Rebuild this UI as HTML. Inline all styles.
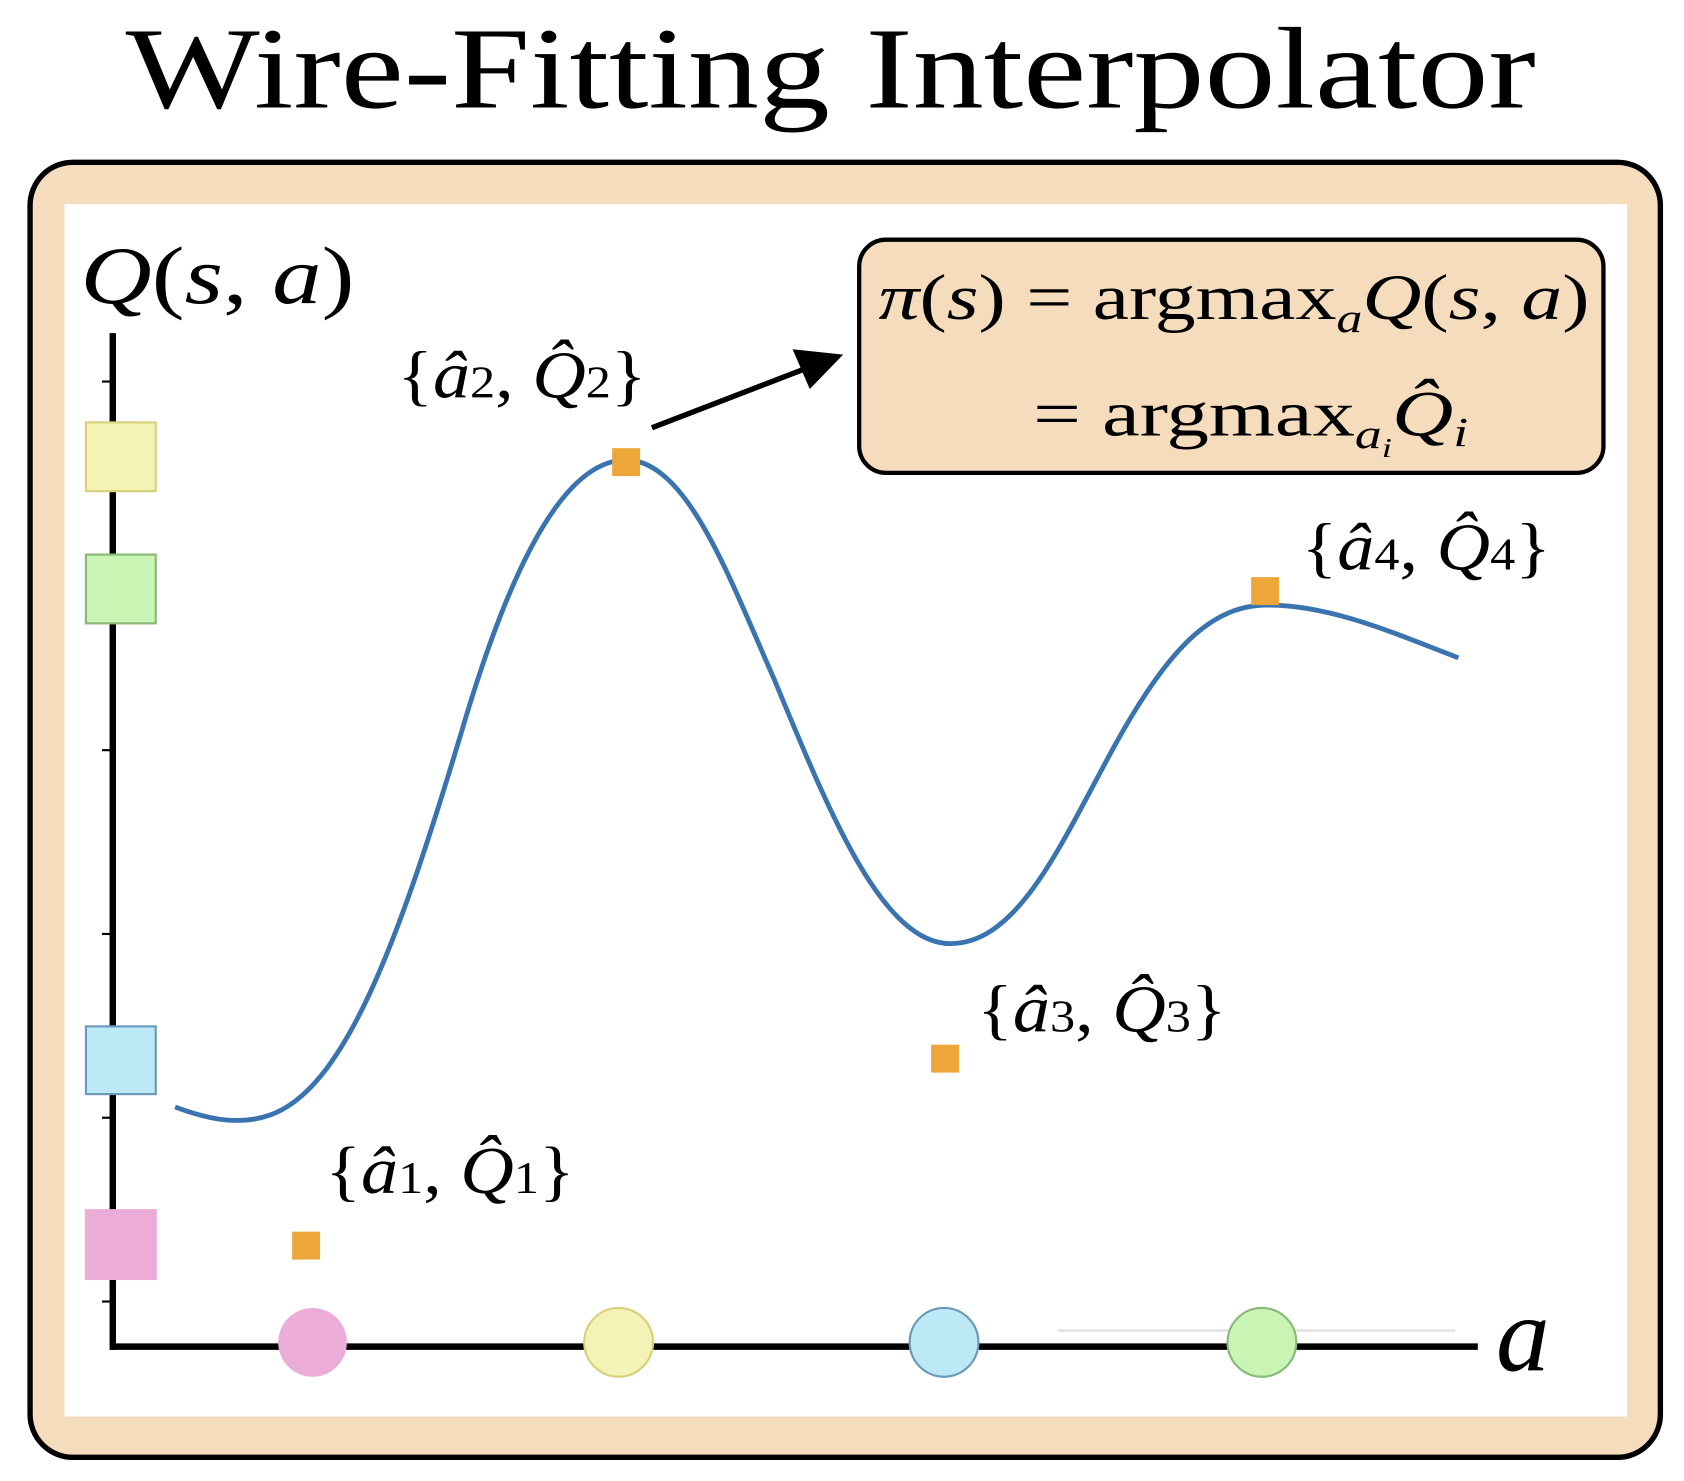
<!DOCTYPE html>
<html><head><meta charset="utf-8"><style>
html,body{margin:0;padding:0;background:#fff;}
svg{display:block;}
.m{font-family:"Liberation Serif",serif;font-style:italic;}
.r{font-family:"Liberation Serif",serif;font-style:normal;}
</style></head><body>
<svg width="1684" height="1481" viewBox="0 0 1568 1378" preserveAspectRatio="none" xmlns="http://www.w3.org/2000/svg">
<rect width="1568" height="1378" fill="#fff"/>
<text x="117" y="100" class="r" font-size="108" textLength="1313" lengthAdjust="spacingAndGlyphs">Wire-Fitting Interpolator</text>
<rect x="28" y="151" width="1518" height="1205" rx="40" fill="#f5dcbd" stroke="#000" stroke-width="5"/>
<rect x="60" y="190" width="1455" height="1128" fill="#fff"/>
<line x1="105" y1="310" x2="105" y2="1256" stroke="#000" stroke-width="6"/>
<line x1="103" y1="1253" x2="1376" y2="1253" stroke="#000" stroke-width="6"/>
<g stroke="#000" stroke-width="2">
<line x1="95" y1="355" x2="105" y2="355"/><line x1="95" y1="527" x2="105" y2="527"/><line x1="95" y1="698" x2="105" y2="698"/><line x1="95" y1="869" x2="105" y2="869"/><line x1="95" y1="1040" x2="105" y2="1040"/><line x1="95" y1="1211" x2="105" y2="1211"/>
</g>
<line x1="985" y1="1238" x2="1355" y2="1238" stroke="#ddd" stroke-width="2"/>
<text x="75" y="282" class="m" font-size="76" textLength="255" lengthAdjust="spacingAndGlyphs">Q<tspan class="r">(</tspan>s<tspan class="r">, </tspan>a<tspan class="r">)</tspan></text>
<text x="1393" y="1275" class="m" font-size="100">a</text>
<rect x="80" y="393" width="65" height="64" fill="#f5f2b5" stroke="#d8d07a" stroke-width="2"/>
<rect x="80" y="516" width="65" height="64" fill="#c8f5b4" stroke="#8ab87a" stroke-width="2"/>
<rect x="80" y="955" width="65" height="63" fill="#bde8f5" stroke="#6a9ab8" stroke-width="2"/>
<rect x="79" y="1125" width="67" height="66" fill="#ebacd8"/>
<circle cx="291" cy="1249" r="32" fill="#ebacd8"/>
<circle cx="576" cy="1249" r="32" fill="#f5f2b5" stroke="#d8d07a" stroke-width="2"/>
<circle cx="879" cy="1249" r="32" fill="#bde8f5" stroke="#6a9ab8" stroke-width="2"/>
<circle cx="1175" cy="1249" r="32" fill="#c8f5b4" stroke="#8ab87a" stroke-width="2"/>
<path d="M163,1030 C190,1040 220,1048 250,1038 C320,1015 370,880 430,680 C480,510 530,428 583,428 C640,428 680,540 720,630 C770,750 820,878 885,878 C950,878 990,780 1040,690 C1090,600 1130,563 1180,563 C1240,563 1300,590 1358,612" fill="none" stroke="#3a74b0" stroke-width="4.5"/>
<g fill="#eda63a">
<rect x="272" y="1146" width="26" height="26"/>
<rect x="570" y="417" width="26" height="26"/>
<rect x="867" y="972" width="26" height="26"/>
<rect x="1165" y="537" width="26" height="26"/>
</g>
<g font-size="62" class="m">
<text x="370" y="370" textLength="232" lengthAdjust="spacingAndGlyphs"><tspan class="r">{</tspan>â<tspan class="r" font-size="42">2</tspan><tspan class="r">, </tspan>Q̂<tspan class="r" font-size="42">2</tspan><tspan class="r">}</tspan></text>
<text x="1212" y="530" textLength="232" lengthAdjust="spacingAndGlyphs"><tspan class="r">{</tspan>â<tspan class="r" font-size="42">4</tspan><tspan class="r">, </tspan>Q̂<tspan class="r" font-size="42">4</tspan><tspan class="r">}</tspan></text>
<text x="910" y="960" textLength="232" lengthAdjust="spacingAndGlyphs"><tspan class="r">{</tspan>â<tspan class="r" font-size="42">3</tspan><tspan class="r">, </tspan>Q̂<tspan class="r" font-size="42">3</tspan><tspan class="r">}</tspan></text>
<text x="303" y="1110" textLength="232" lengthAdjust="spacingAndGlyphs"><tspan class="r">{</tspan>â<tspan class="r" font-size="42">1</tspan><tspan class="r">, </tspan>Q̂<tspan class="r" font-size="42">1</tspan><tspan class="r">}</tspan></text>
</g>
<line x1="607" y1="398" x2="750" y2="343" stroke="#000" stroke-width="5"/>
<polygon points="785,330 738,325 754,362" fill="#000"/>
<rect x="800" y="223" width="693" height="217" rx="25" fill="#f5dcbd" stroke="#000" stroke-width="4"/>
<text x="818" y="297" font-size="60" class="m" textLength="662" lengthAdjust="spacingAndGlyphs">π<tspan class="r">(</tspan>s<tspan class="r">) = argmax</tspan><tspan font-size="38" dy="12">a</tspan><tspan dy="-12">Q</tspan><tspan class="r">(</tspan>s<tspan class="r">, </tspan>a<tspan class="r">)</tspan></text>
<text x="962" y="405" font-size="60" class="r" textLength="405" lengthAdjust="spacingAndGlyphs">= argmax<tspan class="m" font-size="38" dy="12">a</tspan><tspan class="m" font-size="26" dy="8">i</tspan><tspan class="m" dy="-20">Q̂</tspan><tspan class="m" font-size="38" dy="10">i</tspan></text>
</svg>
</body></html>
